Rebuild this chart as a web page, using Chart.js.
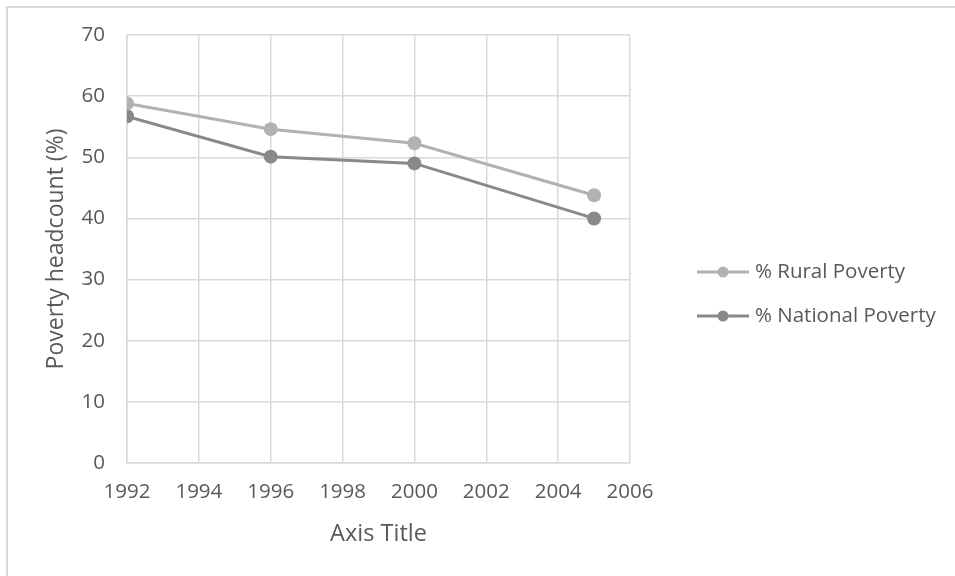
<!DOCTYPE html>
<html>
<head>
<meta charset="utf-8">
<title>Poverty headcount</title>
<script src="https://cdn.jsdelivr.net/npm/chart.js@4.4.1/dist/chart.umd.min.js"></script>
<style>
  html, body { margin: 0; padding: 0; background: #ffffff; }
  #wrap { width: 955px; height: 576px; position: relative; }
</style>
</head>
<body>
<div id="wrap"><canvas id="chart" width="955" height="576"></canvas></div>
<script>
// Survey years and poverty headcount ratios (%)
const years = [1992, 1996, 2000, 2005];
const ruralPoverty = [58.8, 54.6, 52.3, 43.8];
const nationalPoverty = [56.7, 50.1, 49.0, 40.0];
const seriesNames = ['% Rural Poverty', '% National Poverty'];
const seriesColors = ['#b2b2b2', '#898989'];

const FONT = '"Open Sans", "Liberation Sans", sans-serif';
const TEXT = '#595959';
const GRID = '#d9d9d9';

const toPoints = vals => years.map((y, i) => ({ x: y, y: vals[i] }));

// Outer frame of the chart object (left and top edges)
const framePlugin = {
  id: 'frame',
  beforeDraw(chart) {
    const { ctx, width, height } = chart;
    ctx.save();
    ctx.fillStyle = '#ffffff';
    ctx.fillRect(0, 0, width, height);
    ctx.strokeStyle = GRID;
    ctx.lineWidth = 2;
    ctx.beginPath();
    ctx.moveTo(7, height);
    ctx.lineTo(7, 7);
    ctx.lineTo(width, 7);
    ctx.stroke();
    ctx.restore();
  }
};

// Legend on the right: line segment with a marker, then the series name
const lineLegend = {
  id: 'lineLegend',
  afterDraw(chart) {
    const { ctx } = chart;
    const x0 = 697, x1 = 749, textX = 755;
    const rows = [272, 316];
    ctx.save();
    chart.data.datasets.forEach((ds, i) => {
      const y = rows[i];
      ctx.strokeStyle = ds.borderColor;
      ctx.lineWidth = 3;
      ctx.beginPath();
      ctx.moveTo(x0, y);
      ctx.lineTo(x1, y);
      ctx.stroke();
      ctx.fillStyle = ds.pointBackgroundColor;
      ctx.beginPath();
      ctx.arc((x0 + x1) / 2, y, 5.5, 0, Math.PI * 2);
      ctx.fill();
      ctx.fillStyle = TEXT;
      ctx.font = '20.5px ' + FONT;
      ctx.textBaseline = 'middle';
      ctx.textAlign = 'left';
      ctx.fillText(ds.label, textX, y);
    });
    ctx.restore();
  }
};

new Chart(document.getElementById('chart'), {
  type: 'line',
  data: {
    datasets: [
      {
        label: seriesNames[0],
        data: toPoints(ruralPoverty),
        borderColor: seriesColors[0],
        backgroundColor: seriesColors[0],
        pointBackgroundColor: seriesColors[0],
        pointBorderColor: seriesColors[0],
        borderWidth: 3,
        pointRadius: 7,
        pointBorderWidth: 0,
        tension: 0
      },
      {
        label: seriesNames[1],
        data: toPoints(nationalPoverty),
        borderColor: seriesColors[1],
        backgroundColor: seriesColors[1],
        pointBackgroundColor: seriesColors[1],
        pointBorderColor: seriesColors[1],
        borderWidth: 3,
        pointRadius: 7,
        pointBorderWidth: 0,
        tension: 0
      }
    ]
  },
  options: {
    responsive: false,
    animation: false,
    devicePixelRatio: 1,
    layout: { padding: { top: 35, right: 325, bottom: 0, left: 0 } },
    plugins: {
      legend: { display: false },
      tooltip: { enabled: false }
    },
    scales: {
      x: {
        type: 'linear',
        min: 1992,
        max: 2006,
        ticks: {
          stepSize: 2,
          padding: 17,
          color: TEXT,
          font: { family: FONT, size: 20.5 },
          callback: v => String(v)
        },
        grid: { color: GRID, lineWidth: 1.5, drawTicks: false },
        border: { color: GRID, width: 1.5 },
        title: {
          display: true,
          text: 'Axis Title',
          color: TEXT,
          font: { family: FONT, size: 23.5 },
          padding: { top: 0, bottom: 28 }
        },
        afterFit(scale) { scale.height = 113; }
      },
      y: {
        min: 0,
        max: 70,
        ticks: {
          stepSize: 10,
          padding: 22,
          color: TEXT,
          font: { family: FONT, size: 20.5 }
        },
        grid: { color: GRID, lineWidth: 1.5, drawTicks: false },
        border: { color: GRID, width: 1.5 },
        title: {
          display: true,
          text: 'Poverty headcount (%)',
          color: TEXT,
          font: { family: FONT, size: 23 },
          padding: { top: 43, bottom: 0 }
        },
        afterFit(scale) { scale.width = 127; }
      }
    }
  },
  plugins: [framePlugin, lineLegend]
});
</script>
</body>
</html>
